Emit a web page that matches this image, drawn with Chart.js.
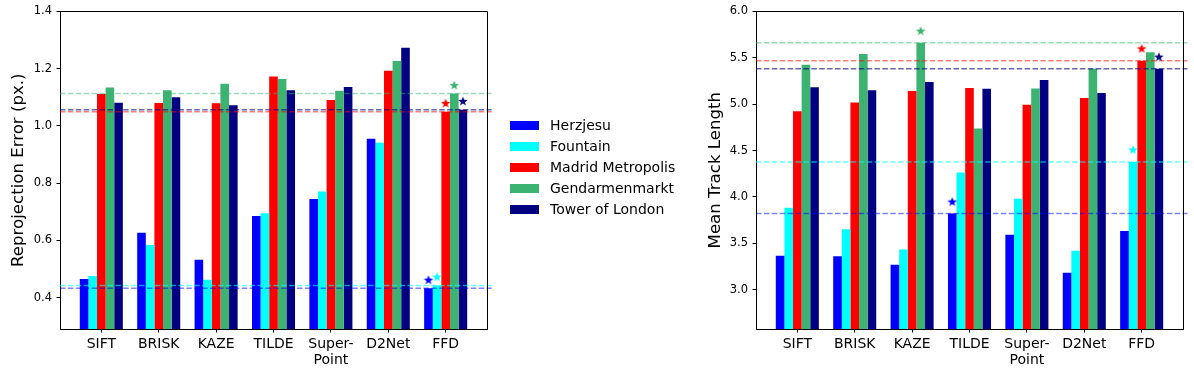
<!DOCTYPE html>
<html><head><meta charset="utf-8">
<script src="https://cdn.jsdelivr.net/npm/chart.js@4.4.1/dist/chart.umd.min.js"></script>
<style>
html,body{margin:0;padding:0;background:#fff;width:1194px;height:374px;overflow:hidden}
#c1{position:absolute;left:0;top:0}
#c2{position:absolute;left:700px;top:0}
</style></head><body>
<canvas id="c1" width="700" height="374"></canvas>
<canvas id="c2" width="494" height="374"></canvas>
<script>
// ---------------- data ----------------
const categories = ['SIFT', 'BRISK', 'KAZE', 'TILDE', ['Super-', 'Point'], 'D2Net', 'FFD'];
const seriesNames = ['Herzjesu', 'Fountain', 'Madrid Metropolis', 'Gendarmenmarkt', 'Tower of London'];
const seriesColors = ['#0000ff', '#00ffff', '#ff0000', '#3cb371', '#000080'];
const lineColors = ['rgba(0,0,255,0.5)', 'rgba(0,255,255,0.6)', 'rgba(255,0,0,0.5)', 'rgba(60,179,113,0.5)', 'rgba(0,0,128,0.6)'];

const reprojHerzjesu   = [0.466, 0.627, 0.533, 0.686, 0.745, 0.955, 0.433];
const reprojFountain   = [0.476, 0.584, 0.463, 0.695, 0.771, 0.941, 0.443];
const reprojMadrid     = [1.112, 1.080, 1.079, 1.173, 1.091, 1.193, 1.050];
const reprojGendarmen  = [1.134, 1.125, 1.147, 1.164, 1.123, 1.227, 1.113];
const reprojTower      = [1.081, 1.100, 1.072, 1.125, 1.136, 1.273, 1.057];

const trackHerzjesu    = [3.366, 3.362, 3.269, 3.822, 3.592, 3.183, 3.632];
const trackFountain    = [3.883, 3.653, 3.434, 4.263, 3.980, 3.420, 4.378];
const trackMadrid      = [4.923, 5.017, 5.142, 5.175, 4.995, 5.067, 5.469];
const trackGendarmen   = [5.426, 5.541, 5.663, 4.737, 5.168, 5.383, 5.559];
const trackTower       = [5.182, 5.150, 5.239, 5.167, 5.261, 5.121, 5.383];

// best value per scene (dashed reference lines)
const reprojBest = [0.433, 0.443, 1.050, 1.113, 1.057];
const trackBest  = [3.822, 4.378, 5.469, 5.663, 5.383];

// star markers: category index of the best method and marker height
const reprojStarCat = [6, 6, 6, 6, 6];
const reprojStarY   = [0.463, 0.474, 1.080, 1.143, 1.087];
const trackStarCat  = [3, 6, 6, 2, 6];
const trackStarY    = [3.951, 4.511, 5.602, 5.792, 5.512];

const reprojTicks = [0.4, 0.6, 0.8, 1.0, 1.2, 1.4];
const trackTicks  = [3.0, 3.5, 4.0, 4.5, 5.0, 5.5, 6.0];

// ---------------- rendering ----------------
Chart.defaults.font.family = "'DejaVu Sans', sans-serif";
Chart.defaults.color = '#000';

const X_MIN = -0.72, X_MAX = 6.72, GROUP = 0.75;

function starImage(color) {
  const s = 12, c = document.createElement('canvas');
  c.width = s; c.height = s;
  const g = c.getContext('2d');
  const R = 5, r = 2.1, cx = s / 2, cy = s / 2 + 0.5;
  g.beginPath();
  for (let i = 0; i < 10; i++) {
    const a = -Math.PI / 2 + i * Math.PI / 5;
    const rad = i % 2 ? r : R;
    g.lineTo(cx + rad * Math.cos(a), cy + rad * Math.sin(a));
  }
  g.closePath();
  g.fillStyle = color;
  g.fill();
  return c;
}

const framePlugin = {
  id: 'frame',
  afterDraw(chart) {
    const { ctx, chartArea: a } = chart;
    ctx.save();
    ctx.strokeStyle = '#000';
    ctx.lineWidth = 1;
    ctx.beginPath();
    ctx.moveTo(Math.round(a.left) - 0.5, Math.round(a.top) + 0.5);
    ctx.lineTo(Math.round(a.right) + 0.5, Math.round(a.top) + 0.5);
    ctx.lineTo(Math.round(a.right) + 0.5, Math.round(a.bottom) + 0.5);
    ctx.stroke();
    ctx.restore();
  }
};

const legendPlugin = {
  id: 'sideLegend',
  afterDraw(chart) {
    const { ctx } = chart;
    ctx.save();
    ctx.font = "14px 'DejaVu Sans', sans-serif";
    ctx.textBaseline = 'middle';
    ctx.textAlign = 'left';
    const bars = chart.data.datasets.filter(d => d.type === 'bar');
    bars.forEach((d, i) => {
      const y = 125.5 + i * 21;
      ctx.fillStyle = d.backgroundColor;
      ctx.fillRect(510, y - 4.5, 29, 9);
      ctx.fillStyle = '#000';
      ctx.fillText(d.label, 550, y + 0.5);
    });
    ctx.restore();
  }
};

function makeChart(canvas, series, best, starCat, starY, ticks, yMin, yMax, title, yWidth, titlePad, rightPad, withLegend) {
  const datasets = [];
  series.forEach((vals, k) => {
    datasets.push({
      type: 'bar', label: seriesNames[k],
      data: vals.map((v, i) => ({ x: i, y: v })),
      backgroundColor: seriesColors[k], borderWidth: 0,
      categoryPercentage: GROUP, barPercentage: 1.0, order: 2
    });
  });
  best.forEach((b, k) => {
    datasets.push({
      type: 'line', label: 'best-' + k,
      data: [{ x: X_MIN, y: b }, { x: X_MAX + 0.08, y: b }],
      borderColor: lineColors[k], borderWidth: 1.5, borderDash: [5.5, 2.4],
      pointRadius: 0, fill: false, clip: false, order: 1
    });
  });
  starY.forEach((sy, k) => {
    datasets.push({
      type: 'line', label: 'star-' + k, showLine: false,
      data: [{ x: starCat[k] + (k - 2) * (GROUP / 5), y: sy }],
      pointStyle: starImage(seriesColors[k]), pointRadius: 5, clip: false, order: 0
    });
  });
  return new Chart(canvas, {
    type: 'bar',
    data: { datasets },
    options: {
      responsive: false, animation: false,
      layout: { padding: { left: 0, top: 11, right: rightPad, bottom: 0 } },
      plugins: { legend: { display: false }, tooltip: { enabled: false } },
      scales: {
        x: {
          type: 'linear', min: X_MIN, max: X_MAX, offset: false,
          afterBuildTicks: s => { s.ticks = categories.map((c, i) => ({ value: i })); },
          afterFit: s => { s.height = 45; },
          ticks: {
            callback: (v, i) => categories[i], autoSkip: false, maxRotation: 0, minRotation: 0,
            font: { size: 14 }, color: '#000', padding: 3
          },
          grid: { display: true, offset: false, drawOnChartArea: false, drawTicks: true, tickLength: 3.5, color: '#000' },
          border: { display: true, color: '#000', width: 1 }
        },
        y: {
          type: 'linear', min: yMin, max: yMax,
          afterBuildTicks: s => { s.ticks = ticks.map(v => ({ value: v })); },
          afterFit: s => { s.width = yWidth; },
          ticks: { callback: v => Number(v).toFixed(1), font: { size: 11.5 }, color: '#000', padding: 4.5 },
          grid: { display: true, offset: false, drawOnChartArea: false, drawTicks: true, tickLength: 3.5, color: '#000' },
          border: { display: true, color: '#000', width: 1 },
          title: { display: true, text: title, font: { size: 16.6 }, color: '#000', padding: { top: titlePad, bottom: 0 } }
        }
      }
    },
    plugins: withLegend ? [framePlugin, legendPlugin] : [framePlugin]
  });
}

makeChart(document.getElementById('c1'),
  [reprojHerzjesu, reprojFountain, reprojMadrid, reprojGendarmen, reprojTower],
  reprojBest, reprojStarCat, reprojStarY, reprojTicks, 0.291, 1.4,
  'Reprojection Error (px.)', 60, 9, 213, true);

makeChart(document.getElementById('c2'),
  [trackHerzjesu, trackFountain, trackMadrid, trackGendarmen, trackTower],
  trackBest, trackStarCat, trackStarY, trackTicks, 2.577, 6.0,
  'Mean Track Length', 56, 5.5, 11, false);
</script>
</body></html>
